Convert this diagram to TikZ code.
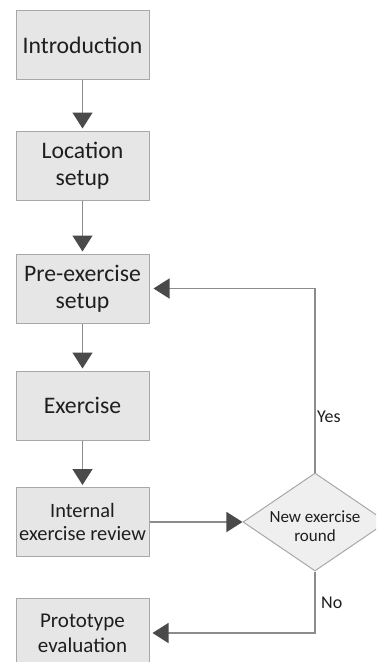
\documentclass[tikz,border=0pt]{standalone}
\usepackage{fontspec}
\setmainfont{Carlito}
\usetikzlibrary{arrows.meta,shapes.geometric}
\definecolor{boxfill}{HTML}{E6E6E6}
\definecolor{boxline}{HTML}{A8A8A8}
\definecolor{decfill}{HTML}{EFEFEF}
\definecolor{wire}{HTML}{8C8C8C}
\definecolor{tipcol}{HTML}{4A4A4A}
\definecolor{ink}{HTML}{1E1E1E}
\begin{document}
\begin{tikzpicture}[x=1pt,y=-1pt,
  stepbox/.style={draw=boxline,fill=boxfill,line width=1pt,
    minimum width=133pt,minimum height=69pt,inner sep=0pt,
    align=center,text=ink,font=\fontsize{23.7}{27}\selectfont},
  decision/.style={shape=diamond,draw=boxline,fill=decfill,line width=1pt,
    minimum width=144pt,minimum height=98pt,inner sep=0pt},
  flow/.style={draw=wire,line width=1.3pt,
    -{Triangle[length=16pt,width=20pt,color=tipcol]}},
  answer/.style={inner sep=0pt,anchor=west,text=ink,font=\fontsize{18}{20}\selectfont}]
\useasboundingbox (0,0) rectangle (376,662);
\clip (0,0) rectangle (376,662);

% process steps
\node[stepbox] (intro) at (82.5,45) {Introduction};
\node[stepbox] (loc) at (82.5,165.5) {Location\\setup};
\node[stepbox] (pre) at (82.5,288.5) {Pre-exercise\\setup};
\node[stepbox] (ex) at (82.5,405.5) {Exercise};
\node[stepbox,font=\fontsize{20.4}{23}\selectfont] (rev) at (82.5,522) {Internal\\exercise review};
\node[stepbox,font=\fontsize{21}{25}\selectfont] (proto) at (82.5,633) {Prototype\\evaluation};

% decision
\node[decision] (dec) at (315,522) {};
\node[inner sep=0pt,align=center,text=ink,font=\fontsize{17}{19.4}\selectfont] (dectext) at (315,526) {New exercise\\round};

% connectors
\draw[flow,shorten >=2pt] (intro) -- (loc);
\draw[flow,shorten >=2pt] (loc) -- (pre);
\draw[flow,shorten >=2pt] (pre) -- (ex);
\draw[flow,shorten >=2pt] (ex) -- (rev);
\draw[flow] (rev) -- (dec);
\draw[flow,shorten >=4pt] (dec.north) |- (pre.east);
\draw[flow,shorten >=3pt] (dec.south) |- (proto.east);

% branch labels
\node[answer] (yes) at (317,417) {Yes};
\node[answer] (no) at (321,603) {No};
\end{tikzpicture}
\end{document}
